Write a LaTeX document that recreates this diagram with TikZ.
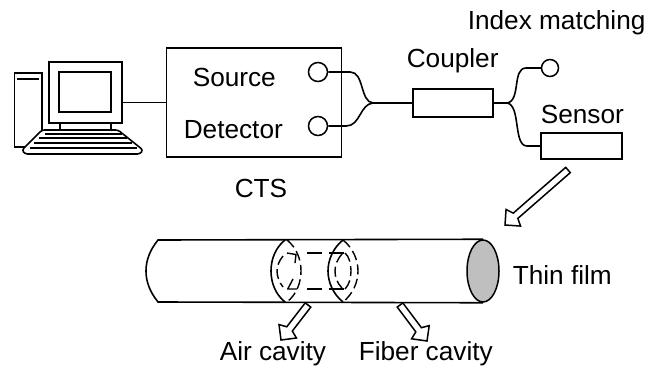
\documentclass[tikz,border=0pt]{standalone}
\usepackage{fontspec}
\setmainfont{Liberation Sans}
\usetikzlibrary{calc,shapes.geometric}

% hollow arrow from a tail to a tip
\newcommand{\hollowarrow}[2]{
	\draw[line width=1.5pt,fill=white,line join=miter] (#2)
		-- ($(#2)!11pt!(#1)!11pt!90:(#1)$)
		-- ($(#2)!14pt!(#1)!3.5pt!90:(#1)$)
		-- ($(#1)!3.5pt!-90:(#2)$)
		-- ($(#1)!3.5pt!90:(#2)$)
		-- ($(#2)!14pt!(#1)!3.5pt!-90:(#1)$)
		-- ($(#2)!11pt!(#1)!11pt!-90:(#1)$)
		-- cycle;
}

\begin{document}
\begin{tikzpicture}[
		x=1pt,
		y=-1pt,
		line width=1.6pt,
		every node/.style={font=\fontsize{26.2}{30}\selectfont,inner sep=0pt},
		textlabel/.style={anchor=base west},
		box/.style={draw,rectangle,line width=1.6pt},
		port/.style={draw,circle,line width=1.5pt},
		fiber/.style={line width=1.6pt},
		trunk/.style={line width=2.2pt},
		cavity/.style={line width=1.4pt,dash pattern=on 10pt off 4.5pt},
		cavityline/.style={line width=1.4pt,dash pattern=on 15pt off 7pt}
	]
		\useasboundingbox (0,0) rectangle (647,369);

		% Computer
		\node[box,minimum width=27.5pt,minimum height=74pt] (tower) at (28.25,110) {};
		\draw[line width=2.5pt] (17,79) -- (39,79);
		\node[box,minimum width=73pt,minimum height=61pt] (monitor) at (85.5,92.5) {};
		\node[box,minimum width=52pt,minimum height=40pt] (screen) at (85,92) {};
		\draw (60,123) -- (60,131);
		\draw (111,123) -- (111,131);
		\draw[fill=white,rounded corners=2.5pt] (42,130) -- (118,130) -- (143,150) -- (140,154) -- (25,154) -- (22,150) -- cycle;
		\draw[line width=2pt] (45,133.5) -- (122,133.5) (39,138) -- (127,138) (34,142.5) -- (132,142.5) (30,147.5) -- (137,147.5);

		% Devices
		\node[box,minimum width=175pt,minimum height=109pt] (cts) at (254,102.5) {};
		\node[port,minimum size=19pt] (src) at (318,72) {};
		\node[port,minimum size=19pt] (det) at (318,126) {};
		\node[box,minimum width=80pt,minimum height=28pt] (coupler) at (453,103) {};
		\node[port,minimum size=17pt] (idx) at (550,68) {};
		\node[box,minimum width=81pt,minimum height=26pt] (sensor) at (581.5,146) {};
		\coordinate (splitl) at (373,103);
		\coordinate (splitr) at (507,103);

		% Labels
		\node[textlabel] (srclabel) at (192,86) {Source};
		\node[textlabel] (detlabel) at (183,138) {Detector};
		\node[textlabel] (ctslabel) at (234,197) {CTS};
		\node[textlabel] (couplerlabel) at (406,67) {Coupler};
		\node[textlabel] (idxlabel) at (467,30) {Index matching};
		\node[textlabel] (sensorlabel) at (540,123) {Sensor};
		\node[textlabel] (filmlabel) at (512,284) {Thin film};
		\node[textlabel] (airlabel) at (219,360) {Air cavity};
		\node[textlabel] (fiberlabel) at (358,360) {Fiber cavity};

		% Connections
		\draw (cts.west) -- (cts.west -| monitor.east);
		\draw[fiber] (src.east) -- ++(22,0) .. controls +(14,0) and +(-13,-1) .. (splitl);
		\draw[fiber] (det.east) -- ++(18,0) .. controls +(14,0) and +(-13,1) .. (splitl);
		\draw[trunk] (splitl) -- (coupler.west);
		\draw[trunk] (coupler.east) -- (splitr);
		\draw[fiber] (splitr) .. controls +(14,-2) and +(-14,0) .. ++(19,-35) -- (idx.west);
		\draw[fiber] (splitr) .. controls +(14,2) and +(-14,0) .. ++(20,43) -- (sensor.west);

		% Cylinder
		\node[draw,ellipse,fill=black!25,line width=1.5pt,minimum width=32pt,minimum height=62pt] (film) at (483,271) {};
		\draw (film.north) -- (158,240) .. controls (150,250) and (146,260) .. (146,271) .. controls (146,282) and (150,292) .. (158,302) -- (film.south);

		% Cavities
		\draw (285,240) .. controls (275,248) and (271,260) .. (271,271) .. controls (271,282) and (275,294) .. (285,302);
		\draw (343,240) .. controls (333,248) and (328,260) .. (328,271) .. controls (328,282) and (333,294) .. (343,302);
		\draw[cavity] (287,240) .. controls (297,248) and (301,260) .. (301,271) .. controls (301,282) and (297,294) .. (287,302);
		\draw[cavity] (343,240) .. controls (353,248) and (358,260) .. (358,271) .. controls (358,282) and (353,294) .. (343,302);
		\draw[cavity] (283,256) .. controls (279,261) and (277,266) .. (277,271) .. controls (277,276) and (279,282) .. (283,287);
		\draw[cavity] (342,254) .. controls (337,260) and (335,265) .. (335,271) .. controls (335,277) and (337,283) .. (342,288);
		\draw[line width=1.4pt] (287,253) -- (296,254.5) -- (295,263) (287,289) -- (297,289) (288,288.5) -- (293,279);
		\draw[cavityline] (307,253) -- (345,253) (307,289) -- (345,289);
		\draw[cavity] (345,253) .. controls (349,256) and (351,264) .. (351,271) .. controls (351,278) and (349,285) .. (345,289);

		% Arrows
		\coordinate (sensortail) at (568,170);
		\coordinate (sensortip) at (505,225);
		\coordinate (airtail) at (308,305);
		\coordinate (airtip) at (281,340);
		\coordinate (fibertail) at (400,305);
		\coordinate (fibertip) at (427,341);
		\hollowarrow{sensortail}{sensortip}
		\hollowarrow{airtail}{airtip}
		\hollowarrow{fibertail}{fibertip}
	\end{tikzpicture}
\end{document}
